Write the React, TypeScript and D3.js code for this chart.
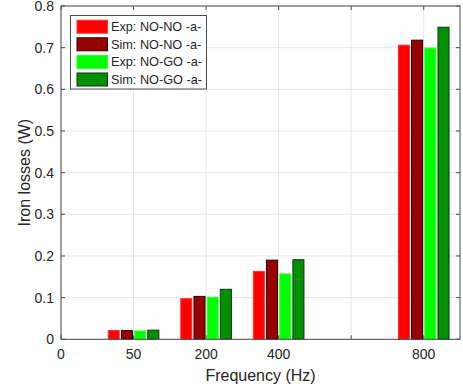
import React from "react";
import * as d3 from "d3";

// Frequency groups (tick positions 1..5); position 0 carries the "0" tick only
const categories = ["50", "200", "400", "", "800"];
const xTickLabels = ["0", "50", "200", "400", "", "800"];
const yTicks = [0, 0.1, 0.2, 0.3, 0.4, 0.5, 0.6, 0.7, 0.8];

const expNONO = [0.021, 0.0975, 0.163, 0, 0.706];
const simNONO = [0.021, 0.103, 0.19, 0, 0.718];
const expNOGO = [0.02, 0.101, 0.157, 0, 0.699];
const simNOGO = [0.022, 0.12, 0.191, 0, 0.749];

const seriesNames = ["Exp: NO-NO -a-", "Sim: NO-NO -a-", "Exp: NO-GO -a-", "Sim: NO-GO -a-"];
const seriesValues = [expNONO, simNONO, expNOGO, simNOGO];
const fills = ["#ff0000", "#990000", "#00ff00", "#009000"];
const strokes = ["#ff3030", "#2a0000", "#30ff30", "#103010"];

const W = 463;
const H = 390;
const left = 61;
const right = 460;
const top = 6;
const bottom = 339.3;
const font = "'Liberation Sans', Arial, Helvetica, sans-serif";
const textColor = "#262626";
const axisColor = "#4d4d4d";

export default function App() {
  const x = d3.scaleLinear().domain([0, 5.5]).range([left, right]);
  const y = d3.scaleLinear().domain([0, 0.8]).range([bottom, top]);
  const nSeries = seriesValues.length;
  const pitch = Math.min(0.8, nSeries / (nSeries + 1.5)) / nSeries;
  const barW = x(0.152) - x(0);

  return (
    <svg
      width={W}
      height={H}
      style={{ position: "absolute", left: 0, top: 0, background: "#fff" }}
      fontFamily={font}
    >
      {/* grid */}
      {yTicks.map((t) => (
        <line key={"gy" + t} x1={left} x2={right} y1={y(t)} y2={y(t)} stroke="#e6e6e6" strokeWidth={1} />
      ))}
      {xTickLabels.map((_, i) => (
        <line key={"gx" + i} x1={x(i)} x2={x(i)} y1={top} y2={bottom} stroke="#e6e6e6" strokeWidth={1} />
      ))}

      {/* bars */}
      {categories.map((c, gi) =>
        seriesValues.map((vals, si) => {
          const cx = x(gi + 1 + (si - (nSeries - 1) / 2) * pitch);
          const v = vals[gi];
          return (
            <rect
              key={c + "-" + gi + "-" + si}
              x={cx - barW / 2}
              y={y(v)}
              width={barW}
              height={Math.max(0, y(0) - y(v))}
              fill={fills[si]}
              stroke={strokes[si]}
              strokeWidth={1}
            />
          );
        })
      )}

      {/* axes box */}
      <rect x={left} y={top} width={right - left} height={bottom - top} fill="none" stroke={axisColor} strokeWidth={1} />
      {yTicks.map((t) => (
        <g key={"ty" + t}>
          <line x1={left} x2={left + 4} y1={y(t)} y2={y(t)} stroke={axisColor} />
          <line x1={right - 4} x2={right} y1={y(t)} y2={y(t)} stroke={axisColor} />
          <text x={left - 7} y={y(t)} dy="0.36em" textAnchor="end" fontSize={14} fill={textColor}>
            {t === 0 ? "0" : d3.format(".1f")(t)}
          </text>
        </g>
      ))}
      {xTickLabels.map((lab, i) => (
        <g key={"tx" + i}>
          <line x1={x(i)} x2={x(i)} y1={bottom} y2={bottom - 4} stroke={axisColor} />
          <line x1={x(i)} x2={x(i)} y1={top} y2={top + 4} stroke={axisColor} />
          <text x={x(i)} y={bottom + 20} textAnchor="middle" fontSize={14} fill={textColor}>
            {lab}
          </text>
        </g>
      ))}

      {/* axis titles */}
      <text x={(left + right) / 2} y={381} textAnchor="middle" fontSize={16} fill={textColor}>
        Frequency (Hz)
      </text>
      <text
        transform={`translate(30, ${(top + bottom) / 2}) rotate(-90)`}
        textAnchor="middle"
        fontSize={16}
        fill={textColor}
      >
        Iron losses (W)
      </text>

      {/* legend */}
      <g>
        <rect x={70.5} y={15.5} width={136} height={73.5} fill="#fff" stroke={axisColor} strokeWidth={1} />
        {seriesNames.map((name, i) => {
          const cy = 26.7 + i * 17.6;
          return (
            <g key={name}>
              <rect x={77} y={cy - 6.5} width={30.5} height={13} fill={fills[i]} stroke={strokes[i]} strokeWidth={1} />
              <text x={111} y={cy} dy="0.36em" fontSize={12.7} fill={textColor}>
                {name}
              </text>
            </g>
          );
        })}
      </g>
    </svg>
  );
}
